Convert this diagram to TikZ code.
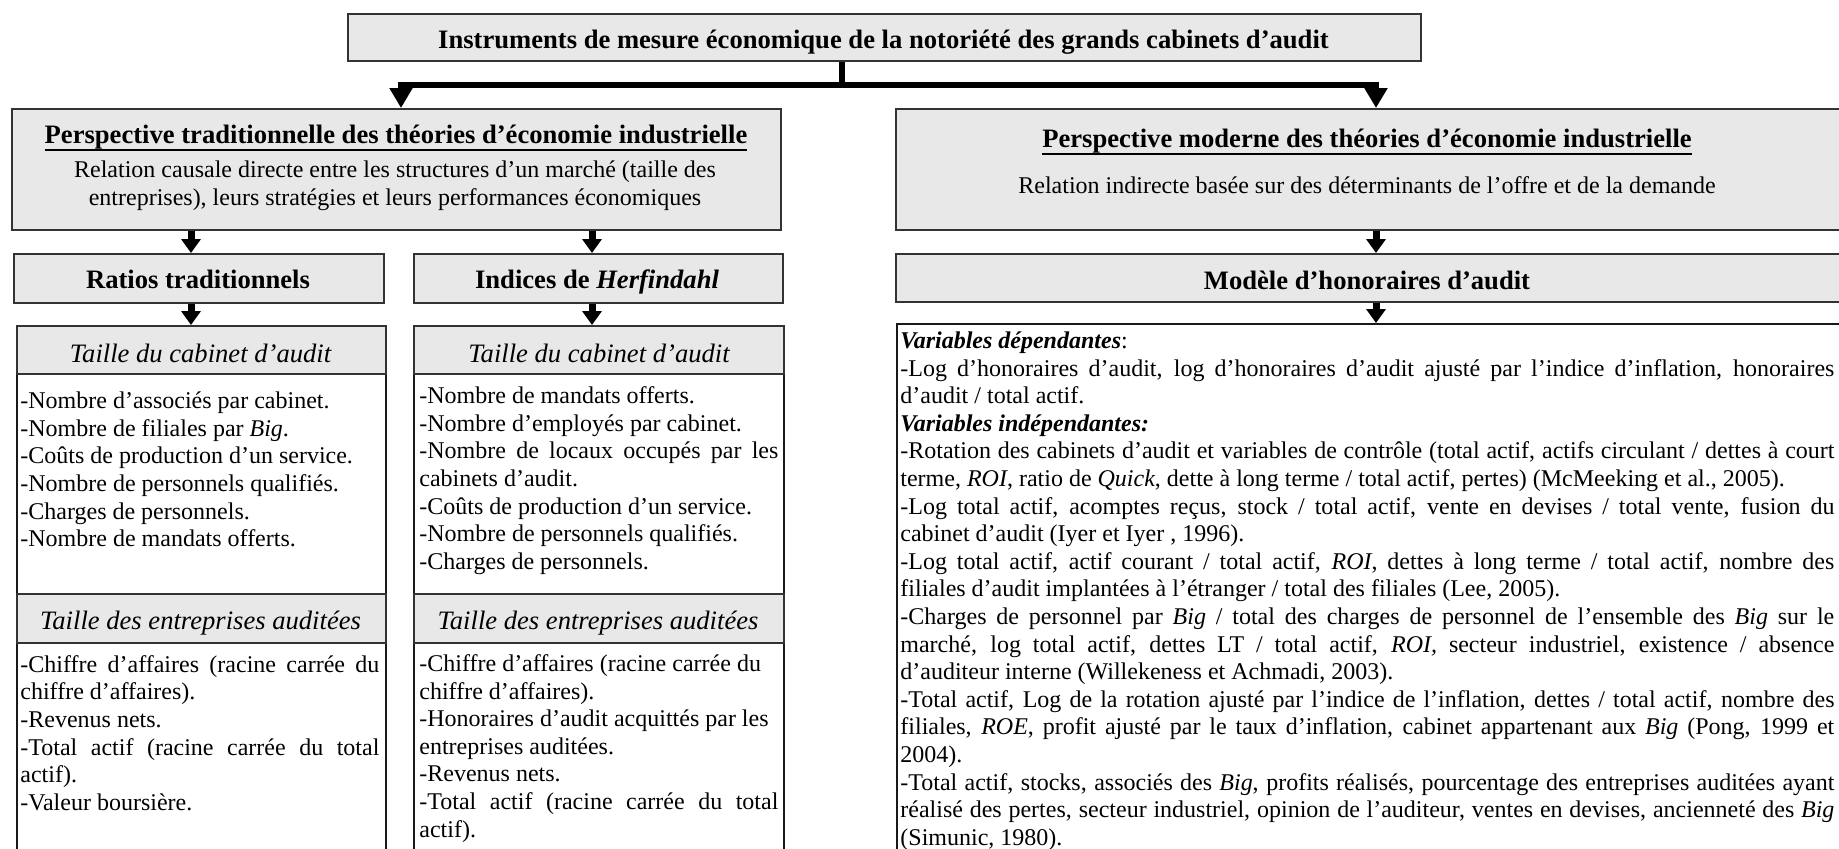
\documentclass[tikz,border=0pt]{standalone}
\usepackage{fontspec}
\setmainfont{Liberation Serif}
\usepackage{xcolor}
\usepackage{tikz}
\usetikzlibrary{positioning}
\usetikzlibrary{calc}
\usetikzlibrary{arrows.meta}

\definecolor{grisclair}{RGB}{232,232,232}
\newcommand{\fgras}{\fontsize{13.3}{15.3}\selectfont\bfseries}
\newcommand{\fital}{\fontsize{13.3}{15.3}\selectfont\itshape}
\newcommand{\fcorps}{\fontsize{12}{13.8}\selectfont}
\newcommand{\souligne}[1]{\setbox0\hbox{#1}\rlap{\rule[-4pt]{\wd0}{1.1pt}}\box0}
\hyphenpenalty=10000
\exhyphenpenalty=10000
\tolerance=9999
\setlength{\parindent}{0pt}
\setlength{\parskip}{0pt}

\tikzset{
  boitegrise/.style={anchor=north west, draw=black!80, line width=0.8pt, fill=grisclair, inner sep=0pt},
  boiteliste/.style={anchor=north west, draw=black!90, line width=0.8pt, fill=white, inner sep=0pt},
  corps/.style={anchor=north west, inner sep=0pt, text width=179.5pt, align=justify, font=\fcorps},
  fleche/.style={-{Triangle[width=9.5pt,length=7pt]}, line width=3.5pt},
  grandefleche/.style={-{Triangle[width=11pt,length=10pt]}, line width=2.6pt},
}

\begin{document}
\begin{tikzpicture}[x=0.5pt, y=-0.5pt]
  \useasboundingbox (0,0) rectangle (1839,848);
  \clip (0,0) rectangle (1839,848);

  % boites
  \node[boitegrise, minimum width=536.5pt, minimum height=23.5pt] (titre) at (347,13) {};
  \node[boitegrise, minimum width=384.5pt, minimum height=60.5pt] (trad) at (11,108) {};
  \node[boitegrise, minimum width=481pt, minimum height=60.5pt] (moderne) at (895,108) {};
  \node[boitegrise, minimum width=185pt, minimum height=24.5pt] (ratios) at (13,253) {};
  \node[boitegrise, minimum width=184.5pt, minimum height=24.5pt] (indices) at (413,253) {};
  \node[boitegrise, minimum width=481pt, minimum height=24pt] (modele) at (895,253) {};
  \node[boiteliste, minimum width=184.5pt, minimum height=110pt] (liste1) at (16,373) {};
  \node[boiteliste, minimum width=185pt, minimum height=110pt] (liste2) at (413,373) {};
  \node[boiteliste, minimum width=184.5pt, minimum height=110pt] (liste3) at (16,642) {};
  \node[boiteliste, minimum width=185pt, minimum height=110pt] (liste4) at (413,642) {};
  \node[boiteliste, minimum width=480.5pt, minimum height=270pt] (variables) at (896,323) {};
  \node[boitegrise, minimum width=184.5pt, minimum height=24pt] (tcab1) at (16,325) {};
  \node[boitegrise, minimum width=185pt, minimum height=24pt] (tcab2) at (413,325) {};
  \node[boitegrise, minimum width=184.5pt, minimum height=24.5pt] (tent1) at (16,593) {};
  \node[boitegrise, minimum width=185pt, minimum height=24.5pt] (tent2) at (413,593) {};

  % titres
  \node[anchor=base, inner sep=0pt, font=\fgras] (titre-txt) at (883.5,48) {Instruments de mesure économique de la notoriété des grands cabinets d’audit};
  \node[anchor=base, inner sep=0pt, font=\fgras] (trad-txt) at (396,143) {\souligne{Perspective traditionnelle des théories d’économie industrielle}};
  \node[anchor=base, inner sep=0pt, font=\fcorps] (trad-l1) at (395,177) {Relation causale directe entre les structures d’un marché (taille des};
  \node[anchor=base, inner sep=0pt, font=\fcorps] (trad-l2) at (395,205) {entreprises), leurs stratégies et leurs performances économiques};
  \node[anchor=base, inner sep=0pt, font=\fgras] (moderne-txt) at (1367,147) {\souligne{Perspective moderne des théories d’économie industrielle}};
  \node[anchor=base, inner sep=0pt, font=\fcorps] (moderne-l1) at (1367,193) {Relation indirecte basée sur des déterminants de l’offre et de la demande};
  \node[anchor=base, inner sep=0pt, font=\fgras] (ratios-txt) at (198,288) {Ratios traditionnels};
  \node[anchor=base, inner sep=0pt, font=\fgras] (indices-txt) at (597,288) {Indices de \textit{Herfindahl}};
  \node[anchor=base, inner sep=0pt, font=\fgras] (modele-txt) at (1367,289) {Modèle d’honoraires d’audit};
  \node[anchor=base, inner sep=0pt, font=\fital] (tcab1-txt) at (200.5,362) {Taille du cabinet d’audit};
  \node[anchor=base, inner sep=0pt, font=\fital] (tcab2-txt) at (599,362) {Taille du cabinet d’audit};
  \node[anchor=base, inner sep=0pt, font=\fital] (tent1-txt) at (200.5,629) {Taille des entreprises auditées};
  \node[anchor=base, inner sep=0pt, font=\fital] (tent2-txt) at (598,629) {Taille des entreprises auditées};

  % listes
  \node[corps] (liste1-txt) at (20,389) {\strut -Nombre d’associés par cabinet.\par
    -Nombre de filiales par \textit{Big}.\par
    -Coûts de production d’un service.\par
    -Nombre de personnels qualifiés.\par
    -Charges de personnels.\par
    -Nombre de mandats offerts.};
  \node[corps] (liste2-txt) at (419,384) {\strut -Nombre de mandats offerts.\par
    -Nombre d’employés par cabinet.\par
    -Nombre de locaux occupés par les\linebreak cabinets d’audit.\par
    -Coûts de production d’un service.\par
    -Nombre de personnels qualifiés.\par
    -Charges de personnels.};
  \node[corps] (liste3-txt) at (20,652.5) {\strut -Chiffre d’affaires (racine carrée du\linebreak chiffre d’affaires).\par
    -Revenus nets.\par
    -Total actif (racine carrée du total\linebreak actif).\par
    -Valeur boursière.};
  \node[corps] (liste4-txt) at (419,651.7) {\strut -Chiffre d’affaires (racine carrée du\newline chiffre d’affaires).\par
    -Honoraires d’audit acquittés par les\newline entreprises auditées.\par
    -Revenus nets.\par
    -Total actif (racine carrée du total\linebreak actif).};
  \node[corps, text width=467pt] (variables-txt) at (900,328.7) {\strut \textbf{\textit{Variables dépendantes}}:\par
    -Log d’honoraires d’audit, log d’honoraires d’audit ajusté par l’indice d’inflation, honoraires\linebreak d’audit / total actif.\par
    \textbf{\textit{Variables indépendantes:}}\par
    -Rotation des cabinets d’audit et variables de contrôle (total actif, actifs circulant / dettes à court\linebreak terme, \textit{ROI}, ratio de \textit{Quick}, dette à long terme / total actif, pertes) (McMeeking et al., 2005).\par
    -Log total actif, acomptes reçus, stock / total actif, vente en devises / total vente, fusion du\linebreak cabinet d’audit (Iyer et Iyer , 1996).\par
    -Log total actif, actif courant / total actif, \textit{ROI}, dettes à long terme / total actif, nombre des\linebreak filiales d’audit implantées à l’étranger / total des filiales (Lee, 2005).\par
    -Charges de personnel par \textit{Big} / total des charges de personnel de l’ensemble des \textit{Big} sur le\linebreak marché, log total actif, dettes LT / total actif, \textit{ROI,} secteur industriel, existence / absence\linebreak d’auditeur interne (Willekeness et Achmadi, 2003).\par
    -Total actif, Log de la rotation ajusté par l’indice de l’inflation, dettes / total actif, nombre des\linebreak filiales, \textit{ROE}, profit ajusté par le taux d’inflation, cabinet appartenant aux \textit{Big} (Pong, 1999 et\linebreak 2004).\par
    -Total actif, stocks, associés des \textit{Big}, profits réalisés, pourcentage des entreprises auditées ayant\linebreak réalisé des pertes, secteur industriel, opinion de l’auditeur, ventes en devises, ancienneté des \textit{Big}\linebreak (Simunic, 1980).};

  % fleches
  \coordinate (tronc) at (842,85);
  \coordinate (g1) at (401,0);
  \coordinate (d1) at (1376,0);
  \coordinate (a1) at (191,0);
  \coordinate (a2) at (592,0);
  \draw[line width=2.6pt] (titre.south -| tronc) -- (tronc);
  \draw[grandefleche] (tronc) -| (trad.north -| g1);
  \draw[grandefleche] (tronc) -| (moderne.north -| d1);
  \foreach \de/\vers/\x in {trad/ratios/a1, trad/indices/a2, moderne/modele/d1,
                            ratios/tcab1/a1, indices/tcab2/a2, modele/variables/d1} {
    \draw[fleche] (\de.south -| \x) -- (\vers.north -| \x);
  }
\end{tikzpicture}
\end{document}
